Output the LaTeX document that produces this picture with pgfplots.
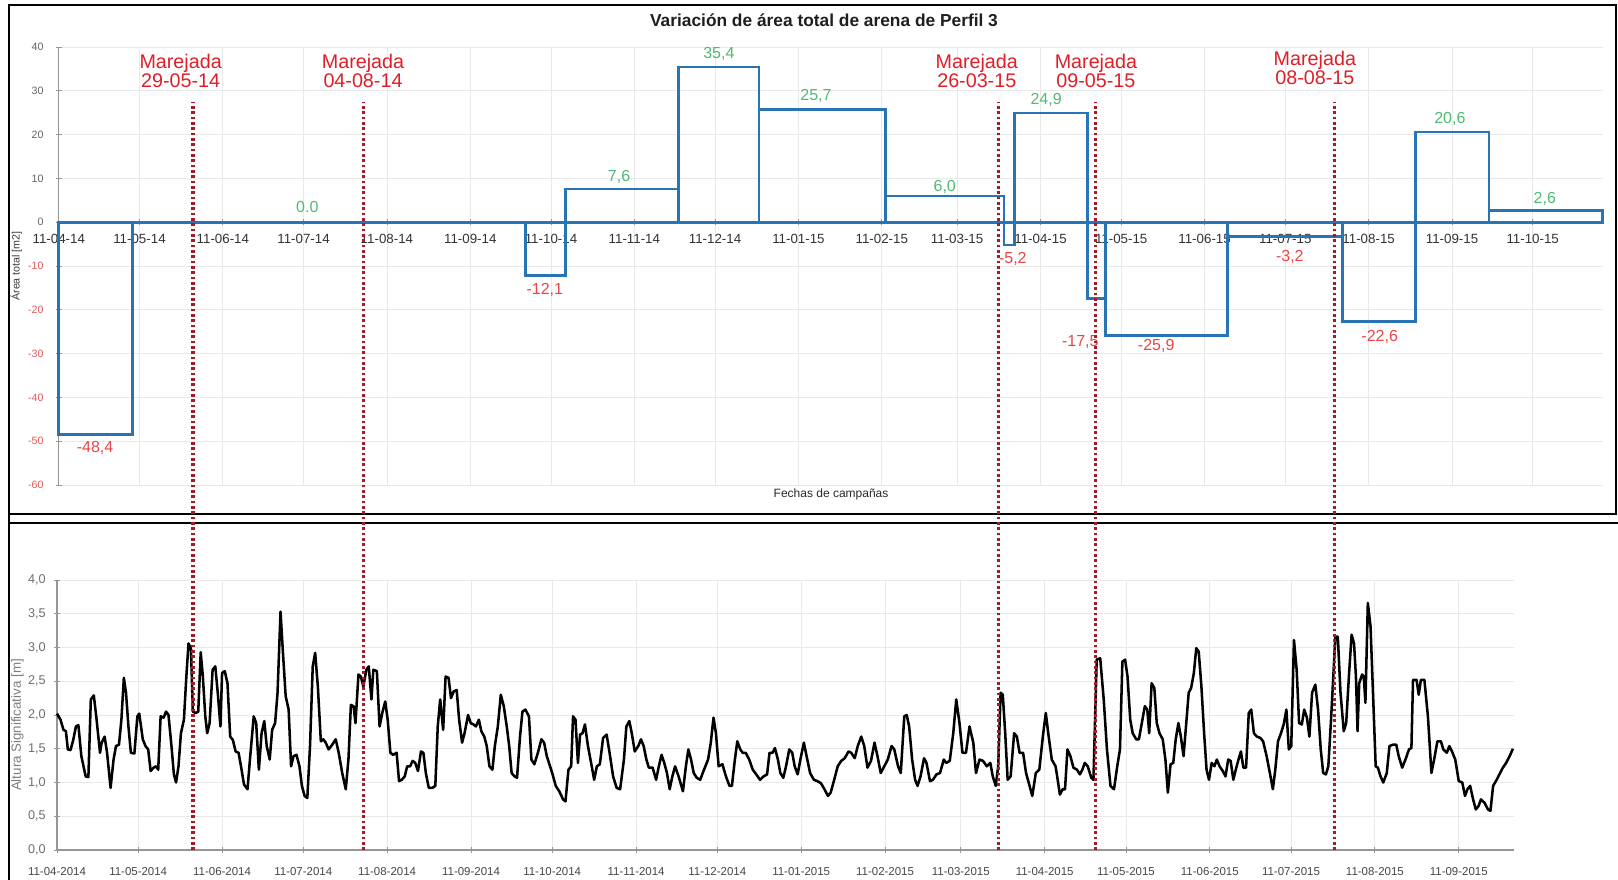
\documentclass[border=0pt]{standalone}
\usepackage{pgfplots}
\usepackage{pgfplotstable}
\pgfplotsset{compat=1.18}
\usepackage{fontspec}
\setmainfont{Liberation Sans}
\definecolor{stepblue}{RGB}{40,116,180}
\definecolor{poslab}{RGB}{80,185,115}
\definecolor{neglab}{RGB}{232,70,70}
\definecolor{marred}{RGB}{222,30,40}
\definecolor{dotred}{RGB}{165,25,40}
\definecolor{gridc}{RGB}{233,233,233}
\definecolor{axisc}{RGB}{150,150,150}
\definecolor{ticklab}{RGB}{50,50,50}
\definecolor{negtick}{RGB}{225,90,90}
\definecolor{postick}{RGB}{100,100,100}

\pgfplotstableread{
d h
0 2.02
1.3 1.93
2.4 1.78
3.3 1.76
4.0 1.49
5.0 1.48
6.0 1.63
7.0 1.83
7.9 1.85
9.0 1.39
10.6 1.09
11.6 1.08
12.5 2.23
13.6 2.29
14.5 1.98
15.9 1.44
16.5 1.59
17.6 1.68
18.5 1.44
19.8 0.92
20.9 1.34
21.8 1.54
22.9 1.56
23.8 1.93
24.7 2.55
25.5 2.33
26.4 1.83
27.3 1.44
28.6 1.43
29.7 1.98
30.4 2.02
31.7 1.64
32.7 1.54
33.7 1.49
34.6 1.17
35.7 1.22
36.6 1.24
37.4 1.19
38.3 1.98
39.4 1.96
40.3 2.05
41.2 2.00
42.3 1.54
43.2 1.12
44.0 1.00
44.9 1.24
45.8 1.73
46.9 1.93
47.8 2.57
48.6 3.06
49.5 2.99
50.2 2.05
51.3 2.03
52.2 2.05
53.1 2.93
53.9 2.57
54.8 1.98
55.5 1.73
56.4 1.88
57.5 2.67
58.5 2.72
59.4 2.33
60.4 1.83
61.0 2.62
62.0 2.65
63.0 2.47
64.0 1.68
65.0 1.63
66.0 1.46
67.1 1.44
68.0 1.24
69.1 0.97
70.4 0.90
71.3 1.34
72.7 1.98
73.6 1.88
74.6 1.19
75.6 1.73
76.6 1.91
77.5 1.54
78.6 1.34
79.5 1.78
80.6 1.88
81.5 2.33
82.6 3.53
83.5 2.92
84.5 2.28
85.6 2.08
86.5 1.24
87.4 1.39
88.5 1.41
89.6 1.24
90.5 0.95
91.5 0.80
92.5 0.77
93.5 1.54
94.5 2.72
95.4 2.92
96.4 2.42
97.5 1.61
98.4 1.64
99.3 1.59
100.4 1.49
101.7 1.56
103.0 1.64
104.1 1.44
105.4 1.14
106.7 0.90
107.7 1.34
108.6 2.15
109.6 2.13
110.3 1.88
111.4 2.60
112.3 2.57
113.2 2.42
114.3 2.67
115.2 2.72
116.2 2.23
116.9 2.67
118.2 2.65
119.2 1.83
120.2 2.03
121.3 2.20
122.2 1.93
123.2 1.44
124.2 1.41
125.5 1.44
126.4 1.02
127.4 1.04
128.5 1.09
129.4 1.24
130.5 1.24
131.4 1.32
132.4 1.29
133.4 1.17
134.5 1.46
135.4 1.44
136.3 1.14
137.4 0.92
138.7 0.92
139.8 0.95
140.7 1.83
141.6 2.23
142.7 1.78
143.6 2.57
144.7 2.55
145.6 2.25
146.6 2.35
147.7 2.37
148.6 1.93
149.7 1.59
150.6 1.73
151.9 2.00
152.9 1.88
153.9 1.86
154.8 1.83
155.9 1.93
156.8 1.76
157.9 1.68
158.8 1.54
159.8 1.24
160.9 1.19
161.8 1.54
162.9 1.83
164.0 2.30
165.1 2.13
166.2 1.83
167.1 1.54
168.0 1.14
169.1 1.09
170.0 1.07
171.1 1.68
172.0 2.05
173.1 2.08
174.4 1.98
175.3 1.34
176.4 1.27
177.7 1.44
179.0 1.64
180.0 1.59
181.0 1.39
183.0 1.14
184.3 0.95
185.6 0.87
187.0 0.75
187.9 0.72
189.0 1.19
190.0 1.24
190.7 1.98
191.6 1.93
192.5 1.29
193.3 1.71
194.2 1.73
195.1 1.86
196.2 1.54
197.6 1.24
198.5 1.04
199.5 1.24
200.6 1.27
201.8 1.66
203.1 1.71
204.2 1.44
205.5 1.09
206.8 0.92
208.1 0.90
209.5 1.34
210.4 1.83
211.5 1.91
212.4 1.73
213.5 1.46
214.8 1.54
215.8 1.64
216.8 1.54
217.8 1.34
218.7 1.22
220.1 1.22
221.4 1.04
222.4 1.24
223.4 1.41
224.4 1.29
225.4 1.14
226.4 0.90
227.4 1.09
228.4 1.24
229.7 1.09
231.3 0.87
232.4 1.24
233.3 1.49
234.3 1.34
235.3 1.14
236.4 1.07
237.7 1.04
238.6 1.14
239.6 1.24
240.6 1.34
241.6 1.59
242.6 1.96
243.5 1.73
244.5 1.24
245.9 1.27
247.2 1.09
248.5 0.95
249.4 0.95
250.5 1.34
251.4 1.61
252.5 1.49
253.4 1.44
254.5 1.44
255.8 1.34
257.1 1.19
258.4 1.12
259.8 1.04
261.1 1.09
262.4 1.12
263.3 1.44
264.4 1.44
265.3 1.51
266.4 1.34
267.3 1.14
268.4 1.07
269.4 1.24
270.6 1.49
271.7 1.44
272.6 1.24
273.7 1.12
274.7 1.34
276.0 1.59
277.0 1.39
278.3 1.14
279.7 1.04
281.0 1.02
282.3 0.99
283.6 0.90
284.9 0.80
285.9 0.85
287.2 1.04
288.5 1.24
289.8 1.32
291.1 1.36
292.5 1.46
293.5 1.44
294.8 1.36
295.9 1.54
297.2 1.68
298.3 1.54
299.5 1.22
300.8 1.32
302.1 1.59
303.2 1.39
304.4 1.14
305.7 1.24
307.0 1.34
308.4 1.54
309.4 1.49
310.8 1.24
311.8 1.14
313.1 1.98
314.0 2.00
314.9 1.83
316.0 1.34
317.1 1.04
318.0 0.95
319.1 1.09
320.4 1.36
321.3 1.29
322.6 1.02
323.7 1.04
325.0 1.12
326.3 1.14
327.7 1.34
328.6 1.29
329.9 1.32
331.2 1.73
332.3 2.23
333.5 1.88
334.6 1.44
335.9 1.44
337.2 1.83
338.6 1.59
339.6 1.14
340.9 1.34
342.2 1.32
343.6 1.24
344.9 1.29
345.8 1.09
346.9 0.95
347.8 1.24
348.7 2.33
349.5 2.30
350.4 1.73
351.3 1.04
352.4 1.09
353.7 1.73
354.7 1.68
355.7 1.44
357.0 1.44
358.1 1.14
359.4 0.95
360.4 0.80
361.7 1.14
363.0 1.19
364.3 1.68
365.4 2.03
366.3 1.73
367.6 1.34
369.0 1.24
369.6 1.09
370.6 0.82
371.6 0.90
372.5 0.90
373.4 1.49
374.5 1.39
375.6 1.22
376.9 1.19
378.0 1.12
378.9 1.19
379.8 1.29
380.9 1.24
382.2 1.07
383.0 1.04
384.2 2.82
385.5 2.84
386.8 2.23
388.0 1.49
389.3 0.95
390.6 0.90
391.8 1.24
392.8 1.49
393.7 2.79
394.7 2.82
395.6 2.57
396.6 1.93
397.5 1.73
398.8 1.64
399.8 1.64
401.1 1.93
402.0 2.13
402.9 2.08
403.6 1.73
404.5 2.47
405.5 2.40
406.4 1.88
407.4 1.73
408.6 1.64
409.6 1.34
410.5 0.85
411.5 1.27
412.5 1.29
413.4 1.64
414.4 1.88
415.3 1.68
416.3 1.39
417.2 1.83
418.2 2.33
419.1 2.40
420.1 2.62
421.0 2.99
421.9 2.94
422.9 2.42
423.9 1.73
424.8 1.19
425.7 1.04
426.7 1.29
427.7 1.24
428.6 1.34
429.6 1.24
430.8 1.17
431.8 1.09
432.8 1.34
433.7 1.32
434.7 1.04
435.6 1.19
436.6 1.34
437.5 1.46
438.4 1.22
439.4 1.22
440.4 2.03
441.3 2.08
442.3 1.73
443.4 1.68
444.7 1.66
445.7 1.61
447.0 1.39
448.2 1.14
449.3 0.90
450.2 1.19
451.2 1.61
452.3 1.73
453.3 1.86
454.3 2.08
455.2 1.49
456.1 1.54
457.1 3.11
458.1 2.67
459.0 1.88
460.0 1.86
460.9 2.08
461.9 1.96
462.8 1.68
463.8 2.33
465.0 2.45
466.0 2.08
467.0 1.49
467.9 1.14
468.9 1.12
469.8 1.24
470.8 1.93
472.4 3.16
473.3 3.16
474.3 2.33
475.5 1.76
476.4 1.88
477.4 2.57
478.4 3.19
479.3 3.06
480.0 2.57
480.6 1.76
481.2 2.47
482.3 2.60
482.9 2.57
483.5 2.18
484.4 3.66
485.4 3.31
486.3 2.33
487.3 1.24
488.1 1.22
489.1 1.09
490.1 1.00
491.4 1.14
492.4 1.54
493.7 1.56
494.9 1.56
495.8 1.39
497.1 1.22
498.3 1.34
499.6 1.49
500.5 1.51
501.1 2.52
502.4 2.52
503.2 2.30
504.0 2.52
505.3 2.52
506.6 1.98
507.9 1.14
508.9 1.34
510.1 1.61
511.4 1.61
512.3 1.49
513.6 1.44
514.5 1.54
515.5 1.46
516.7 1.34
518.0 1.02
519.3 1.00
520.3 0.80
521.2 0.90
522.2 0.95
523.3 0.75
524.3 0.60
525.3 0.65
526.2 0.75
527.5 0.70
528.8 0.60
529.7 0.58
530.7 0.95
532.0 1.04
533.0 1.12
534.3 1.22
535.5 1.29
536.8 1.39
538.0 1.50
}\wavedata

\pgfplotstableread{
d v
0 -48.4
27.5 0.0
173.5 -12.1
188.4 7.6
230.4 35.4
260.3 25.7
307.3 6.0
351.4 -5.2
355.3 24.9
382.4 -17.5
389.2 -25.9
434.4 -3.2
477.2 -22.6
504.4 20.6
531.8 2.6
574 2.6
}\areadata

\begin{document}
\begin{tikzpicture}
% frames
\draw[line width=1.5pt] (6.75pt,274.5pt) rectangle (1212pt,656.25pt);
\draw[line width=1.5pt] (6.75pt,267.75pt) -- (1213.5pt,267.75pt);
\draw[line width=1.5pt] (6.75pt,274.5pt) -- (6.75pt,0pt);

% title
\node[font=\bfseries\fontsize{13}{15}\selectfont, text={rgb,255:red,30;green,30;blue,30}] at (618pt,644.8pt) {Variación de área total de arena de Perfil 3};

\begin{axis}[
  at={(44.1pt,296.25pt)}, anchor=south west,
  scale only axis, width=1157.9pt, height=328.5pt,
  xmin=0, xmax=574, ymin=-60, ymax=40,
  axis x line=middle, axis y line=left,
  hide obscured x ticks=false, hide obscured y ticks=false,
  axis line style={-},
  x axis line style={stepblue, line width=2pt},
  y axis line style={axisc, line width=0.8pt},
  xtick={0,30,61,91,122,153,183,214,244,275,306,334,365,395,426,456,487,518,548},
  xticklabels={11-04-14,11-05-14,11-06-14,11-07-14,11-08-14,11-09-14,11-10-14,11-11-14,11-12-14,11-01-15,11-02-15,11-03-15,11-04-15,11-05-15,11-06-15,11-07-15,11-08-15,11-09-15,11-10-15},
  ytick={-60,-50,-40,-30,-20,-10,0,10,20,30,40},
  yticklabels={{\textcolor{negtick}{-60}},{\textcolor{negtick}{-50}},{\textcolor{negtick}{-40}},{\textcolor{negtick}{-30}},{\textcolor{negtick}{-20}},{\textcolor{negtick}{-10}},0,10,20,30,40},
  grid=major, major grid style={gridc, line width=0.6pt},
  tick style={axisc, line width=0.6pt}, major tick length=4.5pt, tick align=center,
  xticklabel style={font=\fontsize{10}{12}\selectfont, text=ticklab, inner sep=0pt, anchor=north, yshift=-6.5pt},
  yticklabel style={font=\fontsize{8}{10}\selectfont, text=postick, inner sep=0pt, anchor=east, xshift=-9pt},
  xlabel={Fechas de campañas},
  xlabel style={at={(axis description cs:0.5002,-0.0206)}, anchor=center, font=\fontsize{9}{11}\selectfont, text={rgb,255:red,40;green,40;blue,40}},
  ylabel={Área total [m2]},
  ylabel style={at={(axis description cs:-0.0277,0.5)}, anchor=center, font=\fontsize{8}{10}\selectfont, text={rgb,255:red,60;green,60;blue,60}},
  clip=false,
]
\addplot[ybar interval, draw=stepblue, fill=none, line width=2pt] table[x=d, y=v] {\areadata};
\addplot[stepblue, line width=2pt] coordinates {(0,0) (574,0)};

% value labels
\begin{scope}[every node/.style={font=\fontsize{12}{14}\selectfont}]
\node[text=neglab] at (axis cs:13.5,-51.6) {-48,4};
\node[text=poslab] at (axis cs:92.4,3.4) {0.0};
\node[text=neglab] at (axis cs:180.7,-15.5) {-12,1};
\node[text=poslab] at (axis cs:208.3,10.4) {7,6};
\node[text=poslab] at (axis cs:245.4,38.5) {35,4};
\node[text=poslab] at (axis cs:281.5,28.8) {25,7};
\node[text=poslab] at (axis cs:329.4,8.1) {6,0};
\node[text=neglab] at (axis cs:354.7,-8.4) {-5,2};
\node[text=poslab] at (axis cs:367.1,27.9) {24,9};
\node[text=neglab] at (axis cs:379.8,-27.3) {-17,5};
\node[text=neglab] at (axis cs:408,-28.2) {-25,9};
\node[text=neglab] at (axis cs:457.7,-7.9) {-3,2};
\node[text=neglab] at (axis cs:491.1,-26.1) {-22,6};
\node[text=poslab] at (axis cs:517.2,23.6) {20,6};
\node[text=poslab] at (axis cs:552.5,5.3) {2,6};
\end{scope}

% Marejada labels
\begin{scope}[every node/.style={font=\fontsize{14.8}{14}\selectfont, text=marred, align=center, inner sep=0pt}]
\node at (axis cs:45.3,34.5) {Marejada\\29-05-14};
\node at (axis cs:113.1,34.5) {Marejada\\04-08-14};
\node at (axis cs:341.3,34.5) {Marejada\\26-03-15};
\node at (axis cs:385.6,34.5) {Marejada\\09-05-15};
\node at (axis cs:467,35.2) {Marejada\\08-08-15};
\end{scope}
\end{axis}

\begin{axis}[
  at={(42.75pt,22.5pt)}, anchor=south west,
  scale only axis, width=1092.9pt, height=202.5pt,
  xmin=0, xmax=538.5, ymin=0, ymax=4,
  axis lines=left,
  axis line style={axisc, line width=0.8pt, -},
  xtick={0,30,61,91,122,153,183,214,244,275,306,334,365,395,426,456,487,518},
  xticklabels={11-04-2014,11-05-2014,11-06-2014,11-07-2014,11-08-2014,11-09-2014,11-10-2014,11-11-2014,11-12-2014,11-01-2015,11-02-2015,11-03-2015,11-04-2015,11-05-2015,11-06-2015,11-07-2015,11-08-2015,11-09-2015},
  ytick={0,0.5,1,1.5,2,2.5,3,3.5,4},
  yticklabels={{0,0},{0,5},{1,0},{1,5},{2,0},{2,5},{3,0},{3,5},{4,0}},
  grid=major, major grid style={gridc, line width=0.6pt},
  tick style={axisc, line width=0.6pt}, major tick length=4.5pt, tick align=center,
  xticklabel style={font=\fontsize{8.6}{10}\selectfont, text={rgb,255:red,70;green,70;blue,70}, inner sep=0pt, anchor=north, yshift=-11pt},
  yticklabel style={font=\fontsize{9.5}{11}\selectfont, text={rgb,255:red,110;green,110;blue,110}, inner sep=0pt, anchor=east, xshift=-6pt},
  ylabel={Altura Significativa [m]},
  ylabel style={at={(axis description cs:-0.0271,0.463)}, anchor=center, font=\fontsize{10}{12}\selectfont, text={rgb,255:red,125;green,125;blue,125}},
  clip=false,
]
\addplot[black, line width=1.9pt, line join=round] table[x=d, y=h] {\wavedata};
% storm lines
\addplot[dotred, line width=2.6pt, dash pattern=on 2pt off 2pt] coordinates {(50.2,0) (50.2,11.08)};
\addplot[dotred, line width=2.6pt, dash pattern=on 2pt off 2pt] coordinates {(113.2,0) (113.2,11.08)};
\addplot[dotred, line width=2.6pt, dash pattern=on 2pt off 2pt] coordinates {(348.0,0) (348.0,11.08)};
\addplot[dotred, line width=2.6pt, dash pattern=on 2pt off 2pt] coordinates {(383.8,0) (383.8,11.08)};
\addplot[dotred, line width=2.6pt, dash pattern=on 2pt off 2pt] coordinates {(472.0,0) (472.0,11.08)};
\end{axis}

\pgfresetboundingbox
\path[use as bounding box] (0,0) rectangle (1213.5pt,660pt);
\end{tikzpicture}
\end{document}
